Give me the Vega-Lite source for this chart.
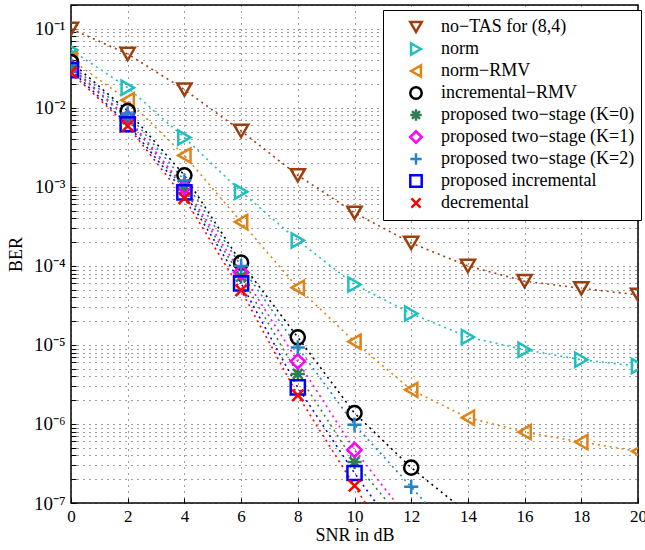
{
  "$schema": "https://vega.github.io/schema/vega-lite/v6.json",
  "width": 567,
  "height": 498,
  "autosize": {"type": "none"},
  "padding": {"left": 71, "top": 5, "right": 7, "bottom": 47},
  "background": "white",
  "config": {
    "font": "Liberation Serif",
    "view": {"stroke": "black", "strokeWidth": 1.5},
    "axis": {
      "labelFont": "Liberation Serif",
      "titleFont": "Liberation Serif",
      "labelColor": "black",
      "titleColor": "black",
      "titleFontWeight": "normal",
      "domain": false,
      "tickColor": "black",
      "tickSize": -5,
      "tickWidth": 1,
      "grid": true,
      "gridColor": "#111",
      "gridDash": [1, 5],
      "gridOpacity": 0.8,
      "gridWidth": 1
    },
    "legend": {
      "labelFont": "Liberation Serif",
      "labelFontSize": 18,
      "labelColor": "black"
    }
  },
  "data": {
    "values": [
      {"s": "no−TAS for (8,4)", "x": 0, "y": 0.1},
      {"s": "no−TAS for (8,4)", "x": 2, "y": 0.048},
      {"s": "no−TAS for (8,4)", "x": 4, "y": 0.017},
      {"s": "no−TAS for (8,4)", "x": 6, "y": 0.0051},
      {"s": "no−TAS for (8,4)", "x": 8, "y": 0.0014},
      {"s": "no−TAS for (8,4)", "x": 10, "y": 0.00047},
      {"s": "no−TAS for (8,4)", "x": 12, "y": 0.000195},
      {"s": "no−TAS for (8,4)", "x": 14, "y": 0.0001},
      {"s": "no−TAS for (8,4)", "x": 16, "y": 0.000064},
      {"s": "no−TAS for (8,4)", "x": 18, "y": 0.000052},
      {"s": "no−TAS for (8,4)", "x": 20, "y": 0.000043},
      {"s": "norm", "x": 0, "y": 0.054},
      {"s": "norm", "x": 2, "y": 0.018},
      {"s": "norm", "x": 4, "y": 0.0042},
      {"s": "norm", "x": 6, "y": 0.00087},
      {"s": "norm", "x": 8, "y": 0.00021},
      {"s": "norm", "x": 10, "y": 0.000058},
      {"s": "norm", "x": 12, "y": 0.000025},
      {"s": "norm", "x": 14, "y": 0.0000126},
      {"s": "norm", "x": 16, "y": 0.0000087},
      {"s": "norm", "x": 18, "y": 0.0000065},
      {"s": "norm", "x": 20, "y": 0.0000054},
      {"s": "norm−RMV", "x": 0, "y": 0.041},
      {"s": "norm−RMV", "x": 2, "y": 0.0125},
      {"s": "norm−RMV", "x": 4, "y": 0.0025},
      {"s": "norm−RMV", "x": 6, "y": 0.00036},
      {"s": "norm−RMV", "x": 8, "y": 0.000053},
      {"s": "norm−RMV", "x": 10, "y": 0.000011},
      {"s": "norm−RMV", "x": 12, "y": 0.0000027},
      {"s": "norm−RMV", "x": 14, "y": 0.0000012},
      {"s": "norm−RMV", "x": 16, "y": 0.00000079},
      {"s": "norm−RMV", "x": 18, "y": 0.00000059},
      {"s": "norm−RMV", "x": 20, "y": 0.00000045},
      {"s": "incremental−RMV", "x": 0, "y": 0.038},
      {"s": "incremental−RMV", "x": 2, "y": 0.0091},
      {"s": "incremental−RMV", "x": 4, "y": 0.0014},
      {"s": "incremental−RMV", "x": 6, "y": 0.00011},
      {"s": "incremental−RMV", "x": 8, "y": 0.0000125},
      {"s": "incremental−RMV", "x": 10, "y": 0.00000137},
      {"s": "incremental−RMV", "x": 12, "y": 0.00000028},
      {"s": "incremental−RMV", "x": 14, "y": 0.000000074},
      {"s": "proposed two−stage (K=0)", "x": 0, "y": 0.032},
      {"s": "proposed two−stage (K=0)", "x": 2, "y": 0.0072},
      {"s": "proposed two−stage (K=0)", "x": 4, "y": 0.00093},
      {"s": "proposed two−stage (K=0)", "x": 6, "y": 0.000073},
      {"s": "proposed two−stage (K=0)", "x": 8, "y": 0.0000043},
      {"s": "proposed two−stage (K=0)", "x": 10, "y": 0.00000033},
      {"s": "proposed two−stage (K=0)", "x": 12, "y": 0.000000045},
      {"s": "proposed two−stage (K=1)", "x": 0, "y": 0.033},
      {"s": "proposed two−stage (K=1)", "x": 2, "y": 0.0075},
      {"s": "proposed two−stage (K=1)", "x": 4, "y": 0.001},
      {"s": "proposed two−stage (K=1)", "x": 6, "y": 0.000083},
      {"s": "proposed two−stage (K=1)", "x": 8, "y": 0.0000062},
      {"s": "proposed two−stage (K=1)", "x": 10, "y": 0.00000047},
      {"s": "proposed two−stage (K=1)", "x": 12, "y": 0.000000057},
      {"s": "proposed two−stage (K=2)", "x": 0, "y": 0.035},
      {"s": "proposed two−stage (K=2)", "x": 2, "y": 0.0085},
      {"s": "proposed two−stage (K=2)", "x": 4, "y": 0.0012},
      {"s": "proposed two−stage (K=2)", "x": 6, "y": 0.0001},
      {"s": "proposed two−stage (K=2)", "x": 8, "y": 0.0000093},
      {"s": "proposed two−stage (K=2)", "x": 10, "y": 0.00000098},
      {"s": "proposed two−stage (K=2)", "x": 12, "y": 0.00000016},
      {"s": "proposed two−stage (K=2)", "x": 14, "y": 0.000000025},
      {"s": "proposed incremental", "x": 0, "y": 0.03},
      {"s": "proposed incremental", "x": 2, "y": 0.0062},
      {"s": "proposed incremental", "x": 4, "y": 0.00085},
      {"s": "proposed incremental", "x": 6, "y": 0.00006},
      {"s": "proposed incremental", "x": 8, "y": 0.0000029},
      {"s": "proposed incremental", "x": 10, "y": 0.00000024},
      {"s": "proposed incremental", "x": 12, "y": 0.000000024},
      {"s": "decremental", "x": 0, "y": 0.028},
      {"s": "decremental", "x": 2, "y": 0.0059},
      {"s": "decremental", "x": 4, "y": 0.00072},
      {"s": "decremental", "x": 6, "y": 0.000049},
      {"s": "decremental", "x": 8, "y": 0.0000023},
      {"s": "decremental", "x": 10, "y": 0.000000165},
      {"s": "decremental", "x": 12, "y": 0.000000012}
    ]
  },
  "encoding": {
    "x": {
      "field": "x", "type": "quantitative",
      "scale": {"domain": [0, 20], "nice": false},
      "axis": {
        "values": [0, 2, 4, 6, 8, 10, 12, 14, 16, 18, 20],
        "title": "SNR in dB",
        "titleFontSize": 18,
        "titlePadding": 2,
        "labelFontSize": 17,
        "labelPadding": 10,
        "labelFlush": false
      }
    },
    "y": {
      "field": "y", "type": "quantitative",
      "scale": {"type": "log", "domain": [1e-7, 0.2], "nice": false},
      "axis": {
        "values": [1e-7, 2e-7, 3e-7, 4e-7, 5e-7, 6e-7, 7e-7, 8e-7, 9e-7,
                   1e-6, 2e-6, 3e-6, 4e-6, 5e-6, 6e-6, 7e-6, 8e-6, 9e-6,
                   1e-5, 2e-5, 3e-5, 4e-5, 5e-5, 6e-5, 7e-5, 8e-5, 9e-5,
                   1e-4, 2e-4, 3e-4, 4e-4, 5e-4, 6e-4, 7e-4, 8e-4, 9e-4,
                   1e-3, 2e-3, 3e-3, 4e-3, 5e-3, 6e-3, 7e-3, 8e-3, 9e-3,
                   1e-2, 2e-2, 3e-2, 4e-2, 5e-2, 6e-2, 7e-2, 8e-2, 9e-2,
                   1e-1, 2e-1],
        "labelExpr": "abs(log(datum.value)/LN10 - round(log(datum.value)/LN10)) < 0.01 ? '10' + ['⁰','⁻¹','⁻²','⁻³','⁻⁴','⁻⁵','⁻⁶','⁻⁷'][-round(log(datum.value)/LN10)] : ''",
        "title": "BER",
        "titleFontSize": 18,
        "titlePadding": 8,
        "labelFontSize": 19,
        "labelPadding": 11,
        "labelFlush": false
      }
    },
    "color": {
      "field": "s", "type": "nominal",
      "scale": {
        "domain": ["no−TAS for (8,4)", "norm", "norm−RMV", "incremental−RMV", "proposed two−stage (K=0)", "proposed two−stage (K=1)", "proposed two−stage (K=2)", "proposed incremental", "decremental"],
        "range": ["#9c3f0c", "#1fbfbf", "#dd8416", "#000000", "#2d7f50", "#ff00ff", "#1f86c8", "#0000ff", "#ff0000"]
      },
      "legend": {
        "title": null,
        "orient": "none",
        "legendX": 312,
        "legendY": 5,
        "direction": "vertical",
        "strokeColor": "black",
        "fillColor": "white",
        "padding": 6,
        "symbolSize": 130,
        "symbolStrokeWidth": 2.5,
        "symbolOffset": 18,
        "labelOffset": 16,
        "rowPadding": 0,
        "clipHeight": 22,
        "labelLimit": 300
      }
    }
  },
  "layer": [
    {
      "mark": {"type": "line", "strokeDash": [2, 4], "strokeWidth": 1.6, "clip": true},
      "encoding": {"detail": {"field": "s"}}
    },
    {
      "mark": {"type": "point", "filled": false, "strokeWidth": 2.5, "size": 200, "clip": true, "opacity": 1},
      "encoding": {
        "shape": {
          "field": "s", "type": "nominal",
          "scale": {
            "domain": ["no−TAS for (8,4)", "norm", "norm−RMV", "incremental−RMV", "proposed two−stage (K=0)", "proposed two−stage (K=1)", "proposed two−stage (K=2)", "proposed incremental", "decremental"],
            "range": ["triangle-down", "triangle-right", "triangle-left", "circle", "M-1,0H1M0,-1V1M-0.7,-0.7L0.7,0.7M-0.7,0.7L0.7,-0.7", "diamond", "M-1,0H1M0,-1V1", "square", "M-0.8,-0.8L0.8,0.8M-0.8,0.8L0.8,-0.8"]
          },
          "legend": {
            "title": null,
            "orient": "none",
            "legendX": 312,
            "legendY": 5,
            "direction": "vertical",
            "strokeColor": "black",
            "fillColor": "white",
            "padding": 6,
            "symbolSize": 130,
            "symbolStrokeWidth": 2.5,
            "symbolOffset": 18,
            "labelOffset": 16,
            "rowPadding": 0,
            "clipHeight": 22,
            "labelLimit": 300
          }
        }
      }
    }
  ]
}
